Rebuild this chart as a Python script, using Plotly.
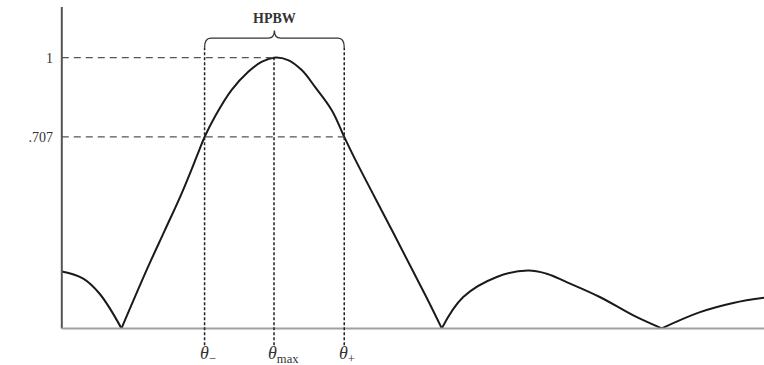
import plotly.graph_objects as go

# Pattern samples (angle in degrees, normalized field)
theta = [0, 5.5, 9.7, 15.3, 22.1, 26.4, 30.7, 34.9, 36.6, 39.2, 43.5, 47.8, 51.2,
         54.4, 58.0, 61.5, 64.9, 69.2, 72.4, 75.1, 84.9, 93.5, 97.4,
         102.9, 111.5, 119.5, 124.3, 129.4, 137.9, 146.5, 153.8, 163.6, 172.1, 180]
field = [0.21, 0.184, 0.128, 0.0, 0.227, 0.362, 0.498, 0.646, 0.707, 0.781, 0.880,
         0.948, 0.984, 1.0, 0.991, 0.954, 0.892, 0.806, 0.707, 0.627, 0.355, 0.114, 0.0,
         0.116, 0.190, 0.214, 0.202, 0.171, 0.116, 0.048, 0.0, 0.060, 0.094, 0.113]

theta_minus = 36.6
theta_max = 54.4
theta_plus = 72.4
half_power = 0.707
peak = 1.0
tick_vals = [half_power, peak]
tick_text = [".707", "1"]

X0, X1 = -2, 180
Y0, Y1 = -0.065, 1.187

fig = go.Figure()

# split curve into lobes at the nulls so the nulls stay sharp
segments = []
cur_x, cur_y = [], []
for t, v in zip(theta, field):
    cur_x.append(t)
    cur_y.append(v)
    if v == 0 and len(cur_x) > 1:
        segments.append((cur_x, cur_y))
        cur_x, cur_y = [t], [v]
if len(cur_x) > 1:
    segments.append((cur_x, cur_y))

for sx, sy in segments:
    fig.add_trace(go.Scatter(x=sx, y=sy, mode="lines",
                             line=dict(color="#1a1a1a", width=2, shape="spline", smoothing=1.1),
                             showlegend=False, hoverinfo="skip"))

dash_col = "#555555"
shapes = []
# axes
shapes.append(dict(type="line", xref="x", yref="y", x0=0, x1=0, y0=0, y1=Y1,
                   line=dict(color="#555555", width=2)))
shapes.append(dict(type="line", xref="x", yref="y", x0=0, x1=X1, y0=0, y1=0,
                   line=dict(color="#a0a0a0", width=2)))
# horizontal dashed guides
shapes.append(dict(type="line", xref="x", yref="y", x0=0, x1=theta_max, y0=peak, y1=peak,
                   line=dict(color=dash_col, width=1.3, dash="7px,5px")))
shapes.append(dict(type="line", xref="x", yref="y", x0=0, x1=theta_plus, y0=half_power, y1=half_power,
                   line=dict(color=dash_col, width=1.3, dash="7px,5px")))
# brace
yb = 1.072
ye = 1.037
yt = 1.10
r = 1.6
mid = (theta_minus + theta_plus) / 2
brace = (f"M {theta_minus},{ye} Q {theta_minus},{yb} {theta_minus + r},{yb} "
         f"L {mid - r},{yb} Q {mid},{yb} {mid},{yt} Q {mid},{yb} {mid + r},{yb} "
         f"L {theta_plus - r},{yb} Q {theta_plus},{yb} {theta_plus},{ye}")
shapes.append(dict(type="path", xref="x", yref="y", path=brace,
                   line=dict(color="#333333", width=1.3)))
# vertical dotted guides
for tx, top in [(theta_minus, ye), (theta_max, peak), (theta_plus, ye)]:
    shapes.append(dict(type="line", xref="x", yref="y", x0=tx, x1=tx, y0=Y0 + 0.003, y1=top,
                       line=dict(color="#222222", width=1.5, dash="3px,2px")))

annotations = [
    dict(x=mid, y=1.146, xref="x", yref="y", text="<b>HPBW</b>", showarrow=False,
         font=dict(family="Liberation Serif", size=14, color="#333333")),
]
for tx, sub, dx in [(theta_minus, "−", 3), (theta_max, "max", 9), (theta_plus, "+", 3)]:
    annotations.append(dict(x=tx, y=-0.024, xref="x", yref="paper", yanchor="middle",
                            text=f"<i>θ</i><sub>{sub}</sub>", showarrow=False, xshift=dx,
                            font=dict(family="Liberation Serif", size=18, color="#333333")))

fig.update_layout(
    width=764, height=365,
    margin=dict(l=54, r=0, t=7, b=19),
    paper_bgcolor="white", plot_bgcolor="white",
    shapes=shapes, annotations=annotations,
    xaxis=dict(range=[X0, X1], showgrid=False, zeroline=False, showline=False,
               showticklabels=False, ticks=""),
    yaxis=dict(range=[Y0, Y1], showgrid=False, zeroline=False, showline=False,
               tickvals=tick_vals, ticktext=tick_text, ticks="",
               tickfont=dict(family="Liberation Serif", size=14, color="#333333")),
)

fig.write_html("out.html")
